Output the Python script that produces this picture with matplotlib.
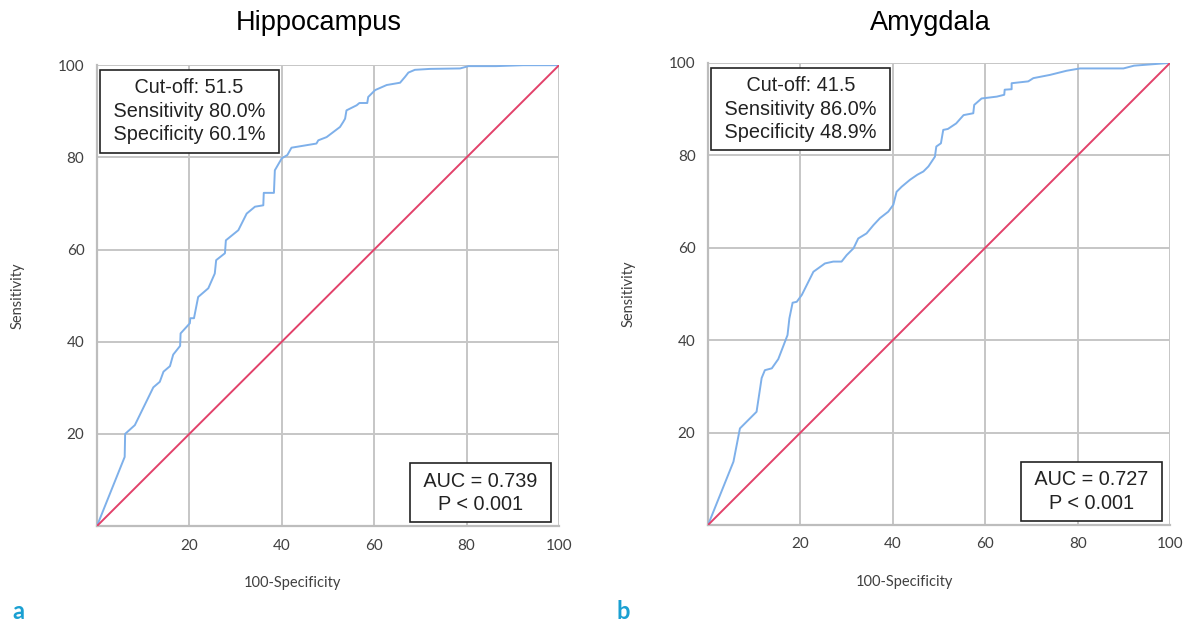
import numpy as np
import matplotlib.pyplot as plt

# ROC curve points (100-Specificity, Sensitivity)
hippo_x = [0, 6.0, 6.1, 8.2, 12.2, 13.6, 14.4, 15.8, 16.5, 18.0, 18.1, 20.1, 20.2, 21.0, 21.9,
           24.1, 25.5, 25.8, 27.7, 27.9, 30.6, 32.4, 34.2, 36.0, 36.1, 38.3, 38.5, 40.0, 41.2,
           42.1, 47.5, 47.9, 49.7, 52.6, 53.3, 53.7, 54.0, 56.2, 56.8, 58.5, 58.7, 60.2, 62.7,
           65.6, 66.7, 67.4, 68.8, 72.1, 78.6, 80.4, 86.4, 92.2, 100]
hippo_y = [0, 15.0, 20.0, 21.9, 30.1, 31.3, 33.5, 34.7, 37.2, 39.1, 41.8, 44.0, 45.1, 45.1, 49.7,
           51.6, 54.8, 57.7, 59.2, 62.0, 64.2, 67.8, 69.3, 69.6, 72.3, 72.3, 77.2, 79.8, 80.5,
           82.1, 83.0, 83.7, 84.4, 86.6, 87.7, 88.4, 90.2, 91.3, 91.8, 91.8, 93.1, 94.6, 95.7,
           96.2, 97.5, 98.4, 99.0, 99.2, 99.3, 99.8, 99.8, 100, 100]

amyg_x = [0, 5.5, 6.9, 10.5, 11.6, 12.3, 13.8, 15.2, 17.2, 17.6, 18.3, 19.2, 20.3, 22.8, 25.3,
          27.1, 28.9, 30.0, 31.5, 32.5, 34.3, 35.8, 37.2, 39.0, 40.1, 40.8, 41.9, 43.7, 45.3,
          46.6, 47.7, 49.1, 49.4, 50.4, 50.9, 51.9, 53.7, 55.3, 57.4, 57.6, 59.2, 62.5, 64.1,
          64.2, 65.7, 65.7, 69.3, 70.4, 74.0, 77.6, 80.5, 89.9, 92.2, 100]
amyg_y = [0, 13.7, 20.9, 24.5, 31.8, 33.5, 33.9, 35.9, 41.1, 44.7, 48.1, 48.3, 49.8, 54.8, 56.6,
          57.0, 57.0, 58.4, 59.9, 62.0, 63.1, 64.9, 66.4, 67.8, 69.3, 72.1, 73.2, 74.7, 75.8,
          76.5, 77.6, 79.7, 81.9, 82.6, 85.5, 85.7, 86.9, 88.7, 89.1, 90.9, 92.3, 92.7, 93.1,
          94.2, 94.3, 95.6, 96.0, 96.7, 97.4, 98.3, 98.8, 98.8, 99.4, 100]

titles = ["Hippocampus", "Amygdala"]
cutoff_text = [" Cut-off: 51.5 \n Sensitivity 80.0% \n Specificity 60.1% ",
               " Cut-off: 41.5 \n Sensitivity 86.0% \n Specificity 48.9% "]
auc_text = [" AUC = 0.739 \nP < 0.001", " AUC = 0.727 \nP < 0.001"]
panel_labels = ["a", "b"]
ticks = [20, 40, 60, 80, 100]

plt.rcParams['font.family'] = ['Liberation Sans', 'DejaVu Sans']
lato = ["Lato", "DejaVu Sans"]

fig = plt.figure(figsize=(11.94, 6.27), dpi=100)
axes = [fig.add_axes([0.0812, 0.161, 0.387, 0.735]),
        fig.add_axes([0.593, 0.1627, 0.387, 0.737])]
curves = [(hippo_x, hippo_y), (amyg_x, amyg_y)]

for i, ax in enumerate(axes):
    cx, cy = curves[i]
    ax.plot(cx, cy, color="#7eb0ea", lw=1.4, zorder=3)
    ax.plot([0, 100], [0, 100], color="#e2416a", lw=1.4, zorder=3)
    ax.set_xlim(0, 100)
    ax.set_ylim(0, 100)
    ax.set_xticks(ticks)
    ax.set_yticks(ticks)
    ax.tick_params(length=0, labelsize=11, labelcolor="#404040", pad=9)
    for lab in ax.get_xticklabels() + ax.get_yticklabels():
        lab.set_family(lato)
    ax.grid(True, color="#c6c6c6", lw=1.4)
    for s in ["top", "right"]:
        ax.spines[s].set_visible(False)
    for s in ["left", "bottom"]:
        ax.spines[s].set_color("#bdbdbd")
        ax.spines[s].set_linewidth(1.6)

    pos = ax.get_position()
    fig.text(pos.x0 + 0.481 * pos.width, 1 - 23 / 627, titles[i], fontsize=19.5,
             ha="center", va="center")

    ax.set_xlabel("100-Specificity", fontsize=10.5, family=lato, color="#404040")
    ax.xaxis.set_label_coords(0.424, -0.108)
    ax.set_ylabel("Sensitivity", fontsize=10.5, family=lato, color="#404040")
    ax.yaxis.set_label_coords(-0.157, 0.5)

    ax.text(0.20, 0.90, cutoff_text[i], transform=ax.transAxes, ha="center", va="center",
            multialignment="center", fontsize=14.3, linespacing=1.3, color="#222222", zorder=5,
            bbox=dict(boxstyle="square,pad=0.42", fc="white", ec="#222222", lw=1.2))
    ax.text(0.83, 0.072, auc_text[i], transform=ax.transAxes, ha="center", va="center",
            multialignment="center", fontsize=14.3, linespacing=1.3, color="#222222", zorder=5,
            bbox=dict(boxstyle="square,pad=0.42", fc="white", ec="#222222", lw=1.2))

fig.text(0.010, 0.012, panel_labels[0], fontsize=17, fontweight="bold", family=lato,
         color="#1aa0d2")
fig.text(0.516, 0.012, panel_labels[1], fontsize=17, fontweight="bold", family=lato,
         color="#1aa0d2")

fig.savefig("out.png", dpi=100)
